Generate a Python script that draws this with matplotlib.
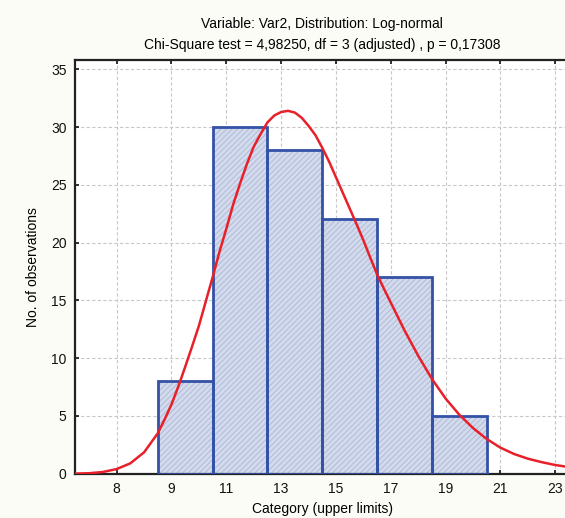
import matplotlib
matplotlib.use("Agg")
import matplotlib.pyplot as plt

plt.rcParams['font.family'] = ['Liberation Sans', 'DejaVu Sans']
plt.rcParams['hatch.linewidth'] = 0.6

# histogram: category upper limits and counts
bin_left = [8.5, 10.5, 12.5, 14.5, 16.5, 18.5]
counts = [8, 30, 28, 22, 17, 5]
bin_width = 2

# tick positions and the labels Statistica printed under them
tick_pos = [7, 9, 11, 13, 15, 17, 19, 21, 23]
tick_labels = ['8', '9', '11', '13', '15', '17', '19', '21', '23']

# fitted log-normal curve (expected counts)
curve_x = [5.5, 6.0, 6.5, 7.0, 7.5, 8.0, 8.5, 8.75, 9.0, 9.25, 9.5, 9.75,
           10.0, 10.25, 10.5, 10.75, 11.0, 11.25, 11.5, 11.75, 12.0, 12.25,
           12.5, 12.75, 13.0, 13.25, 13.5, 13.75, 14.0, 14.25, 14.5, 14.75,
           15.0, 15.25, 15.5, 15.75, 16.0, 16.25, 16.5, 16.75, 17.0, 17.25,
           17.5, 18.0, 18.5, 19.0, 19.5, 20.0, 20.5, 21.0, 21.5, 22.0,
           22.5, 23.0, 23.5]
curve_y = [0.01, 0.04, 0.15, 0.40, 0.90, 1.85, 3.5, 4.7, 6.0, 7.55, 9.25, 11.0,
           12.8, 14.9, 17.0, 19.2, 21.2, 23.3, 25.1, 26.8, 28.3, 29.4,
           30.4, 31.0, 31.3, 31.4, 31.25, 30.8, 30.1, 29.3, 28.2, 27.0,
           25.65, 24.3, 22.95, 21.6, 20.2, 18.7, 17.25, 16.0, 14.8, 13.6,
           12.4, 10.2, 8.2, 6.5, 5.1, 3.95, 3.0, 2.25, 1.7, 1.3,
           1.0, 0.75, 0.57]

fig = plt.figure(figsize=(5.65, 5.18), dpi=100, facecolor='#fcfcf6')
ax = fig.add_axes([75 / 565, 44.3 / 518, 494 / 565, 413.7 / 518])
ax.set_facecolor('white')

# hatched fill first, then the blue outline on top
ax.bar(bin_left, counts, width=bin_width, align='edge', color='#d3daec',
       edgecolor='#aab7d6', hatch='//////', linewidth=0, zorder=2)
ax.bar(bin_left, counts, width=bin_width, align='edge', fill=False,
       edgecolor='#3351a6', linewidth=2, zorder=3)

ax.plot(curve_x, curve_y, color='#e8202a', linewidth=1.8, zorder=4)

ax.set_xlim(5.48, 23.5)
ax.set_ylim(0, 35.8)
ax.set_xticks(tick_pos)
ax.set_xticklabels(tick_labels)
ax.set_yticks(range(0, 36, 5))

ax.grid(True, color='#c8c8c8', linestyle=(0, (3, 2)), linewidth=0.8, zorder=0)
ax.set_axisbelow(True)

ax.tick_params(direction='in', length=3, width=1.2, labelsize=10,
               top=True, right=False, pad=6, colors='#111111')
for side in ['left', 'bottom', 'top']:
    ax.spines[side].set_linewidth(1.6)
    ax.spines[side].set_color('#222222')
ax.spines['right'].set_visible(False)

ax.set_xlabel('Category (upper limits)', fontsize=10, labelpad=4)
ax.set_ylabel('No. of observations', fontsize=10, labelpad=8)
ax.set_title('Variable: Var2, Distribution: Log-normal\n'
             'Chi-Square test = 4,98250, df = 3 (adjusted) , p = 0,17308',
             fontsize=10, pad=8, linespacing=1.6)

fig.savefig('out.png', dpi=100, facecolor=fig.get_facecolor())
